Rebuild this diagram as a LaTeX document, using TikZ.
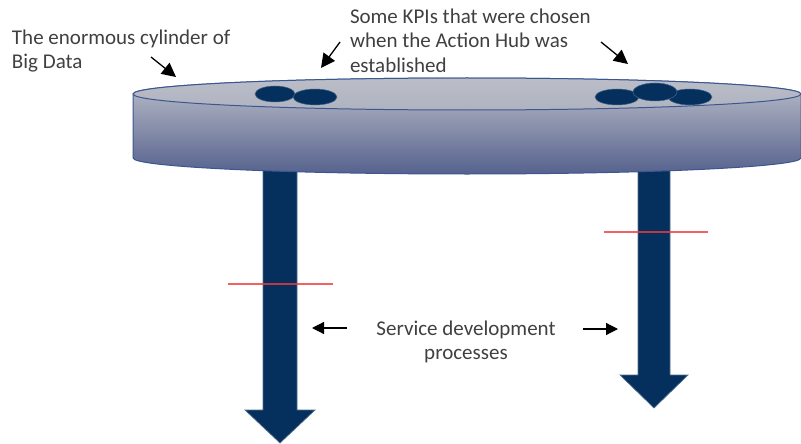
\documentclass[tikz,border=0pt]{standalone}
\usepackage{fontspec}
\setmainfont{Carlito}
\usetikzlibrary{arrows.meta}

\definecolor{navy}{HTML}{05305D}
\definecolor{rim}{HTML}{3C5690}
\definecolor{txt}{HTML}{404040}
\definecolor{cyltop}{HTML}{BCBFC9}
\definecolor{cylbot}{HTML}{56628E}
\definecolor{lidtop}{HTML}{BBBEC8}
\definecolor{lidbot}{HTML}{AFB3C0}
\definecolor{mark}{HTML}{EE3B3B}

\tikzset{
  caption/.style={text=txt, font=\fontsize{21}{24.8}\selectfont, inner sep=0pt, outer sep=0pt},
  pointer/.style={black, line width=1.3pt, -{Triangle[length=14pt,width=14pt]}},
  sidearrow/.style={black, line width=1.2pt, -{Triangle[length=12pt,width=12pt]}},
  blockarrow/.style={fill=navy, draw=navy!70!white, line width=0.7pt},
  kpi/.style={fill=navy, draw=navy!75!white, line width=0.5pt},
  marker/.style={draw=mark, line width=1.3pt, opacity=0.8},
}

\begin{document}
\begin{tikzpicture}[x=1pt,y=-1pt]
\useasboundingbox (0,0) rectangle (801,444);

% downward block arrows (drawn first, the cylinder covers their tops)
\path[blockarrow] (263,160) -- (297,160) -- (297,410) -- (315,410)
  -- (280,443) -- (245,410) -- (263,410) -- cycle;
\path[blockarrow] (638,160) -- (670,160) -- (670,375) -- (688,375)
  -- (654,408) -- (620,375) -- (638,375) -- cycle;

% the cylinder: shaded body, then its lid
\shade[top color=cyltop, bottom color=cylbot, draw=rim, line width=1pt]
  (133,94) -- (133,158)
  arc[start angle=180, end angle=0, x radius=334, y radius=16]
  -- (801,94)
  arc[start angle=0, end angle=-180, x radius=334, y radius=16] -- cycle;
\shade[top color=lidtop, bottom color=lidbot, draw=rim, line width=1pt]
  (467,94) ellipse[x radius=334, y radius=16];

% KPI discs on the lid
\path[kpi] (275,94) ellipse[x radius=20, y radius=8];
\path[kpi] (315,97) ellipse[x radius=22, y radius=8];
\path[kpi] (617,97) ellipse[x radius=22, y radius=8];
\path[kpi] (690,97) ellipse[x radius=22, y radius=8];
\path[kpi] (655,92) ellipse[x radius=22, y radius=9];

% red cut marks across the arrows
\coordinate (m1a) at (228,284); \coordinate (m1b) at (333,284);
\coordinate (m2a) at (604,232); \coordinate (m2b) at (708,232);
\draw[marker] (m1a) -- (m1b);
\draw[marker] (m2a) -- (m2b);

% captions
\node[caption, anchor=north west, align=left] (cyl) at (12,29.5)
  {The enormous cylinder of\\Big Data};
\node[caption, anchor=north west, align=left] (kpis) at (350,8.5)
  {Some KPIs that were chosen\\when the Action Hub was\\established};
\node[caption, anchor=north, align=center] (sdp) at (466,320.5)
  {Service development\\processes};

% pointers
\coordinate (p1s) at (151,57);  \coordinate (p1e) at (176,77);
\coordinate (p2s) at (340,42);  \coordinate (p2e) at (321,68);
\coordinate (p3s) at (601,42);  \coordinate (p3e) at (628,64);
\draw[pointer] (p1s) -- (p1e);
\draw[pointer] (p2s) -- (p2e);
\draw[pointer] (p3s) -- (p3e);

\coordinate (l1s) at (347,328); \coordinate (l1e) at (312,328);
\coordinate (r1s) at (583,329); \coordinate (r1e) at (618,329);
\draw[sidearrow] (l1s) -- (l1e);
\draw[sidearrow] (r1s) -- (r1e);
\end{tikzpicture}
\end{document}
